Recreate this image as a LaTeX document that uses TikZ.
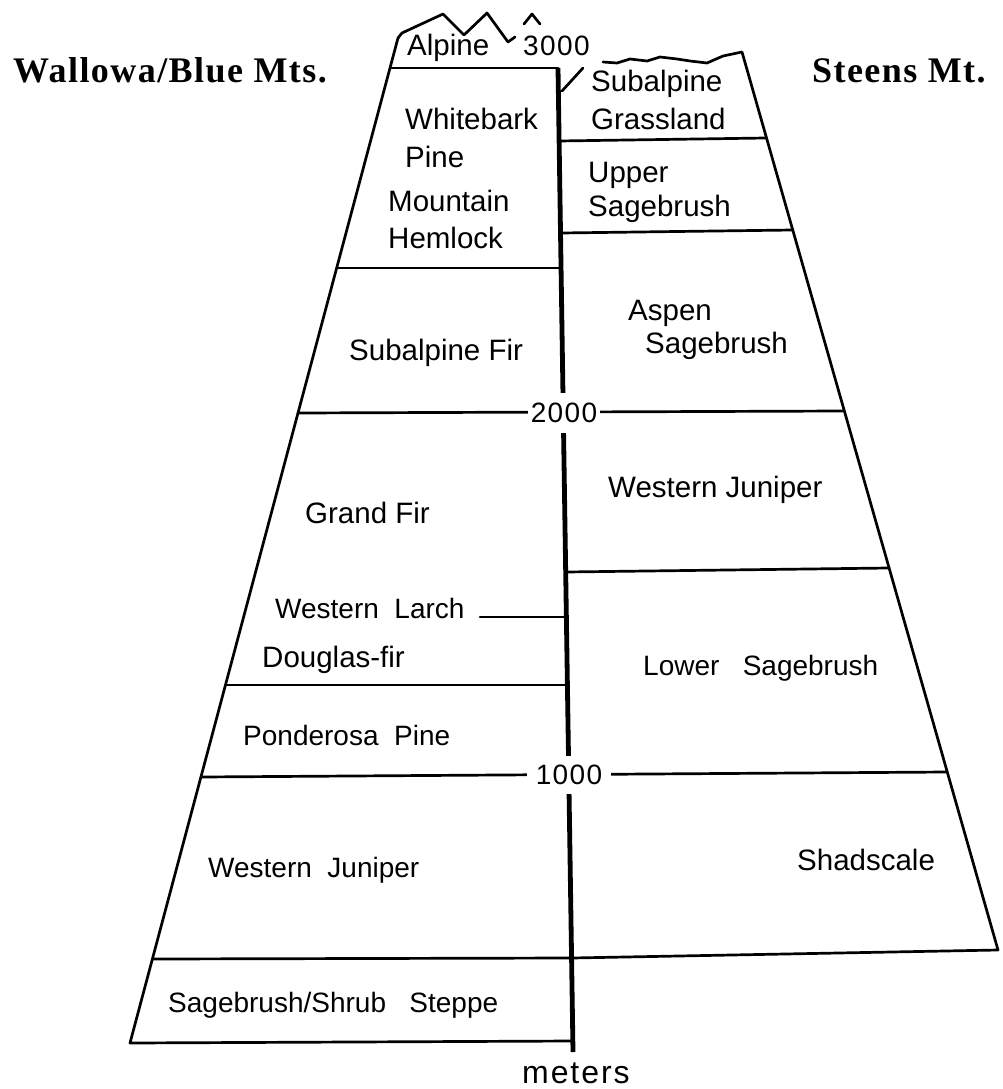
\documentclass[tikz,border=0pt]{standalone}
\usepackage{fontspec}
\setmainfont{Liberation Sans}
\newfontfamily\titlefont[LetterSpace=4]{Liberation Serif}
\newfontfamily\spacedfont[LetterSpace=6]{Liberation Sans}
\newfontfamily\numfont[LetterSpace=5]{Liberation Sans}
\begin{document}
\begin{tikzpicture}[x=1pt,y=-1pt,
  edge/.style={line width=2.7pt, line join=round, line cap=round},
  axisline/.style={line width=4.8pt},
  lbl/.style={font=\fontsize{29.5}{32}\selectfont, inner sep=0pt, anchor=base west},
  lbs/.style={font=\fontsize{28}{30}\selectfont, inner sep=0pt, anchor=base west},
  ttl/.style={font=\titlefont\bfseries\fontsize{36}{40}\selectfont, inner sep=0pt, anchor=base west},
  num/.style={font=\numfont\fontsize{28}{30}\selectfont, fill=white}]
\useasboundingbox (0,0) rectangle (1002,1089);
% key points
\coordinate (LT) at (398,38);
\coordinate (LB) at (130,1043);
\coordinate (CB) at (573,1041);
\coordinate (AxT) at (558,68);
\coordinate (AxB) at (573,1052);
\coordinate (AlpL) at (391,68);
\coordinate (SlA) at (562,91);
\coordinate (SlB) at (583,68);
\coordinate (RT) at (742,52);
\coordinate (RB) at (998,950);
\coordinate (RC) at (572,958);
% left polygon
\draw[edge] (LT) -- (LB) -- (CB);
\draw[edge] (LT) -- (402,33) -- (443,14) -- (464,35) -- (487,13) -- (508,42) -- (515,37);
\draw[edge] (524,24) -- (532,14) -- (540,24);
\draw[edge] (AlpL) -- (AxT);
\draw[edge] (SlA) -- (SlB);
% right polygon
\draw[edge] (603,62) -- (617,63) -- (630,59) -- (647,61) -- (660,57) -- (677,59) -- (690,61) -- (707,63) -- (723,56) -- (RT) -- (RB) -- (RC);
% horizontal bands
\coordinate (H1a) at (337,268); \coordinate (H1b) at (561,268);
\coordinate (H2a) at (298,413); \coordinate (H2b) at (843,411);
\coordinate (H3a) at (480,617); \coordinate (H3b) at (566,617);
\coordinate (H4a) at (226,685); \coordinate (H4b) at (567,685);
\coordinate (H5a) at (201,777); \coordinate (H5b) at (947,772);
\coordinate (H6a) at (153,959); \coordinate (H6b) at (572,958);
\coordinate (R1a) at (559,141); \coordinate (R1b) at (766,138);
\coordinate (R2a) at (561,233); \coordinate (R2b) at (793,230);
\coordinate (R3a) at (566,572); \coordinate (R3b) at (889,568);
\foreach \a/\b in {H1a/H1b,H2a/H2b,H3a/H3b,H4a/H4b,H5a/H5b,H6a/H6b,R1a/R1b,R2a/R2b,R3a/R3b}
  \draw[edge] (\a) -- (\b);
% central axis
\draw[axisline] (AxT) -- (AxB);
% scale labels
\node[num, inner xsep=3pt, inner ysep=10pt] (n2000) at (564,413) {2000};
\node[num, inner xsep=9pt, inner ysep=9pt] (n1000) at (569,775) {1000};
\node[num, fill=none, inner sep=0pt, anchor=base west] (n3000) at (523,56) {3000};
% titles
\node[ttl] (wal) at (13,83) {Wallowa/Blue Mts.};
\node[ttl] (ste) at (812,83) {Steens Mt.};
% zone labels
\node[lbl] (alp) at (407,56) {Alpine};
\node[lbl] (sg1) at (591,92) {Subalpine};
\node[lbl] (sg2) at (591,129) {Grassland};
\node[lbl] (wb1) at (405,130) {Whitebark};
\node[lbl] (wb2) at (405,167) {Pine};
\node[lbl] (mh1) at (388,211) {Mountain};
\node[lbl] (mh2) at (388,248) {Hemlock};
\node[lbl] (us1) at (588,182) {Upper};
\node[lbl] (us2) at (588,216) {Sagebrush};
\node[lbl] (as1) at (628,320) {Aspen};
\node[lbl] (as2) at (645,353) {Sagebrush};
\node[lbl] (saf) at (349,360) {Subalpine Fir};
\node[lbl] (wjr) at (608,497) {Western Juniper};
\node[lbl] (gf) at (305,523) {Grand Fir};
\node[lbs] (wl) at (275,618) {Western\ \ Larch};
\node[lbl] (df) at (262,667) {Douglas-fir};
\node[lbs] (ls) at (643,675) {Lower\ \ \ Sagebrush};
\node[lbs] (pp) at (243,745) {Ponderosa\ \ Pine};
\node[lbs] (wjl) at (208,877) {Western\ \ Juniper};
\node[lbl] (sh) at (797,870) {Shadscale};
\node[lbs] (ss) at (168,1012) {Sagebrush/Shrub\ \ \ Steppe};
\node[lbs, font=\spacedfont\fontsize{32}{34}\selectfont] (met) at (522,1083) {meters};
\end{tikzpicture}
\end{document}
